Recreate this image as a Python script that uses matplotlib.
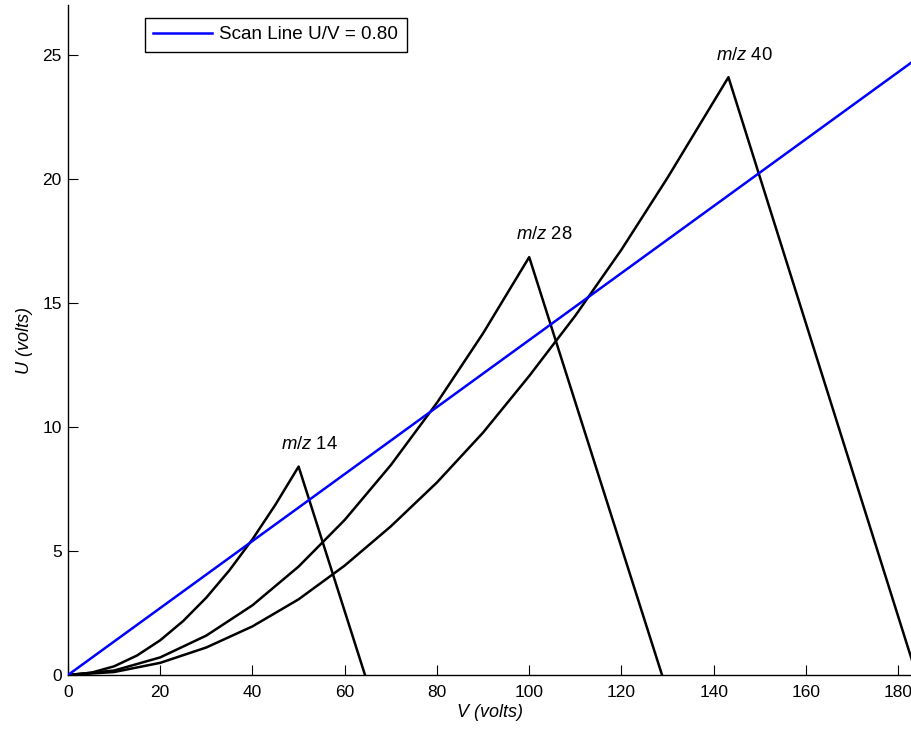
import matplotlib
matplotlib.use('Agg')
import matplotlib.pyplot as plt

# stability boundaries (V in volts, U in volts)
v_mz14 = [0, 5, 10, 15, 20, 25, 30, 35, 40, 45, 50, 64.4]
u_mz14 = [0, 0.09, 0.35, 0.79, 1.40, 2.18, 3.12, 4.22, 5.47, 6.87, 8.4, 0]

v_mz28 = [0, 10, 20, 30, 40, 50, 60, 70, 80, 90, 100, 128.8]
u_mz28 = [0, 0.18, 0.71, 1.59, 2.81, 4.37, 6.25, 8.46, 10.97, 13.77, 16.84, 0]

v_mz40 = [0, 10, 20, 30, 40, 50, 60, 70, 80, 90, 100, 110, 120, 130, 143.2, 184]
u_mz40 = [0, 0.12, 0.49, 1.11, 1.96, 3.05, 4.41, 5.99, 7.76, 9.77, 12.05,
          14.48, 17.14, 20.04, 24.09, 0]

v_scan = [0, 183]
u_scan = [0, 24.7]

peak_labels = ['14', '28', '40']
label_xy = [(46.1, 9.3), (97.2, 17.75), (140.5, 24.96)]

plt.rcParams['font.family'] = ['Liberation Sans', 'DejaVu Sans']
plt.rcParams['mathtext.fontset'] = 'custom'
plt.rcParams['mathtext.it'] = 'Liberation Sans:italic'
plt.rcParams['mathtext.rm'] = 'Liberation Sans'

fig = plt.figure(figsize=(9.12, 7.29), dpi=100)
ax = fig.add_axes([68/912, 54/729, 844/912, 670/729])

ax.plot(v_scan, u_scan, color='#0000ff', lw=1.8, label='Scan Line U/V = 0.80', zorder=3)
for v, u in [(v_mz14, u_mz14), (v_mz28, u_mz28), (v_mz40, u_mz40)]:
    ax.plot(v, u, color='black', lw=1.8, zorder=2)

for name, (x, y) in zip(peak_labels, label_xy):
    ax.text(x, y, '$m/z$ ' + name, fontsize=13.3, ha='left', va='center')

ax.set_xlim(0, 183)
ax.set_ylim(0, 27)
ax.set_xticks(range(0, 181, 20))
ax.set_yticks(range(0, 26, 5))
ax.tick_params(direction='in', length=7, width=0.8, labelsize=12.5)
ax.tick_params(axis='x', pad=7)
ax.tick_params(axis='y', pad=4.5)
for s in ['top', 'right']:
    ax.spines[s].set_visible(False)
for s in ['left', 'bottom']:
    ax.spines[s].set_linewidth(1.0)

ax.set_xlabel('V (volts)', fontsize=13, style='italic', labelpad=3)
ax.set_ylabel('U (volts)', fontsize=13, style='italic', labelpad=7)

leg = ax.legend(loc='upper left', bbox_to_anchor=(0.091, 0.981), fontsize=13.6,
                frameon=True, fancybox=False, framealpha=1, edgecolor='black',
                borderaxespad=0, borderpad=0.45, handlelength=3.1, handletextpad=0.4)
leg.get_frame().set_linewidth(1.0)

fig.savefig('out.png', dpi=100)
